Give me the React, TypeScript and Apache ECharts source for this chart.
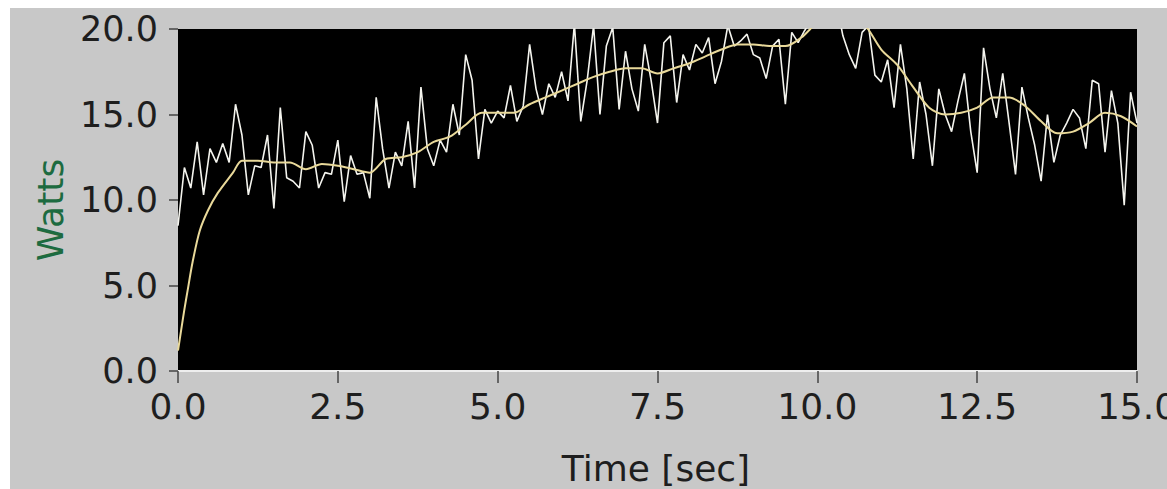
import React, { useEffect, useRef } from "react";
import * as echarts from "echarts";

const sampleStep = 0.1;

const noisyWatts = [
  8.5, 11.9, 10.7, 13.4, 10.3, 13.0, 12.2, 13.3, 12.2, 15.6,
  13.8, 10.3, 12.0, 11.9, 13.8, 9.5, 15.4, 11.3, 11.1, 10.7,
  14.0, 13.2, 10.7, 11.6, 11.5, 13.5, 9.9, 12.6, 11.5, 11.6,
  10.1, 16.0, 13.0, 10.7, 12.8, 12.0, 14.6, 10.7, 16.6, 13.0,
  12.0, 13.5, 12.8, 15.6, 13.8, 18.5, 17.0, 12.4, 15.3, 14.5,
  15.2, 14.8, 16.7, 14.6, 15.5, 19.1, 16.5, 15.0, 16.8, 16.0,
  17.5, 15.8, 20.3, 14.6, 17.0, 20.2, 15.0, 19.0, 20.1, 15.3,
  18.7, 16.5, 15.2, 19.1, 17.0, 14.5, 19.2, 19.6, 15.7, 18.5,
  17.6, 19.1, 18.6, 19.5, 16.8, 18.1, 20.2, 19.0, 19.3, 19.7,
  18.5, 18.3, 17.1, 19.0, 19.4, 15.6, 19.8, 19.2, 19.9, 20.5,
  21.0, 21.5, 21.0, 21.5, 19.6, 18.5, 17.7, 19.8, 20.2, 17.3,
  16.9, 18.2, 15.4, 19.1, 16.5, 12.4, 16.9, 15.0, 12.0, 16.5,
  15.0, 14.0, 15.8, 17.4, 14.0, 11.6, 18.9, 16.5, 14.8, 17.4,
  14.5, 11.5, 16.6, 14.8, 13.2, 11.1, 15.0, 12.2, 13.8, 14.5,
  15.3, 14.8, 13.0, 17.0, 16.8, 12.8, 16.4, 14.5, 9.7, 16.3,
  14.5,
];

const smoothTimes = [
  0, 0.05, 0.1, 0.15, 0.23, 0.34, 0.47, 0.62, 0.86, 1.0, 1.25, 1.5, 1.75,
  2.0, 2.25, 2.5, 2.75, 3.0, 3.25, 3.5, 3.75, 4.0, 4.25, 4.5, 4.75, 5.0,
  5.25, 5.5, 5.75, 6.0, 6.25, 6.5, 6.75, 7.0, 7.25, 7.5, 7.75, 8.0, 8.25,
  8.5, 8.75, 9.0, 9.25, 9.5, 9.75, 10.0, 10.25, 10.5, 10.75, 11.0, 11.25,
  11.5, 11.75, 12.0, 12.25, 12.5, 12.75, 13.0, 13.25, 13.5, 13.75, 14.0,
  14.25, 14.5, 14.75, 15.0,
];
const smoothWatts = [
  1.2, 2.4, 3.6, 4.7, 6.4, 8.2, 9.4, 10.4, 11.6, 12.3, 12.3, 12.2, 12.2,
  11.8, 12.1, 12.0, 11.8, 11.6, 12.4, 12.5, 12.8, 13.4, 13.7, 14.4, 15.1, 15.1,
  15.1, 15.6, 16.0, 16.4, 16.8, 17.2, 17.5, 17.7, 17.7, 17.4, 17.7, 18.0, 18.4,
  18.8, 19.1, 19.1, 19.0, 19.0, 19.5, 20.4, 21.0, 20.8, 20.2, 18.8, 17.9,
  16.6, 15.4, 15.0, 15.1, 15.4, 16.0, 16.0, 15.5, 14.6, 13.9, 14.0,
  14.5, 15.1, 14.9, 14.3,
];

const xTicks = { min: 0, max: 15, interval: 2.5 };
const yTicks = { min: 0, max: 20, interval: 5 };

const FONT = "DejaVu Sans";

export default function App() {
  const ref = useRef<HTMLDivElement>(null);
  useEffect(() => {
    if (!ref.current) return;
    const chart = echarts.init(ref.current, undefined, { renderer: "svg" });
    const noisyData = noisyWatts.map((v, i) => [
      Number((i * sampleStep).toFixed(2)),
      v,
    ]);
    const smoothData = smoothTimes.map((t, i) => [t, smoothWatts[i]]);
    chart.setOption({
      animation: false,
      backgroundColor: "#c8c8c8",
      grid: {
        left: 168,
        top: 21,
        right: 30,
        bottom: 118,
        show: true,
        backgroundColor: "#000000",
        borderWidth: 0,
        containLabel: false,
        outerBoundsMode: "none",
      },
      xAxis: {
        type: "value",
        min: xTicks.min,
        max: xTicks.max,
        interval: xTicks.interval,
        splitLine: { show: false },
        axisLine: { show: true, lineStyle: { color: "#eeeeee", width: 2 } },
        axisTick: {
          show: true,
          length: 12,
          lineStyle: { color: "#444444", width: 1.5 },
        },
        axisLabel: {
          color: "#1e1e1e",
          fontFamily: FONT,
          fontSize: 36,
          margin: 17,
          formatter: (v: number) => v.toFixed(1),
        },
      },
      yAxis: {
        type: "value",
        min: yTicks.min,
        max: yTicks.max,
        interval: yTicks.interval,
        splitLine: { show: false },
        axisLine: { show: false },
        axisTick: {
          show: true,
          length: 9,
          lineStyle: { color: "#444444", width: 1.5 },
        },
        axisLabel: {
          color: "#1e1e1e",
          fontFamily: FONT,
          fontSize: 35,
          margin: 20,
          formatter: (v: number) => v.toFixed(1),
        },
      },
      graphic: [
        {
          type: "text",
          x: 40,
          y: 202,
          rotation: Math.PI / 2,
          style: {
            text: "Watts",
            fill: "#1d6b40",
            font: `36px "${FONT}"`,
            textAlign: "center",
            textVerticalAlign: "middle",
          },
        },
        {
          type: "text",
          x: 646,
          y: 460,
          style: {
            text: "Time [sec]",
            fill: "#1e1e1e",
            font: `36px "${FONT}"`,
            textAlign: "center",
            textVerticalAlign: "middle",
          },
        },
      ],
      series: [
        {
          type: "line",
          data: noisyData,
          showSymbol: false,
          symbol: "none",
          lineStyle: { color: "#f4f4ee", width: 1.6 },
          z: 2,
        },
        {
          type: "line",
          data: smoothData,
          smooth: 0.3,
          showSymbol: false,
          symbol: "none",
          lineStyle: { color: "#e9d99a", width: 2 },
          z: 3,
        },
      ],
    });
    return () => chart.dispose();
  }, []);
  return (
    <div
      style={{
        position: "absolute",
        left: 0,
        top: 0,
        width: 1167,
        height: 489,
        background: "#ffffff",
      }}
    >
      <div
        ref={ref}
        style={{
          position: "absolute",
          left: 10,
          top: 8,
          width: 1157,
          height: 481,
        }}
      />
    </div>
  );
}
